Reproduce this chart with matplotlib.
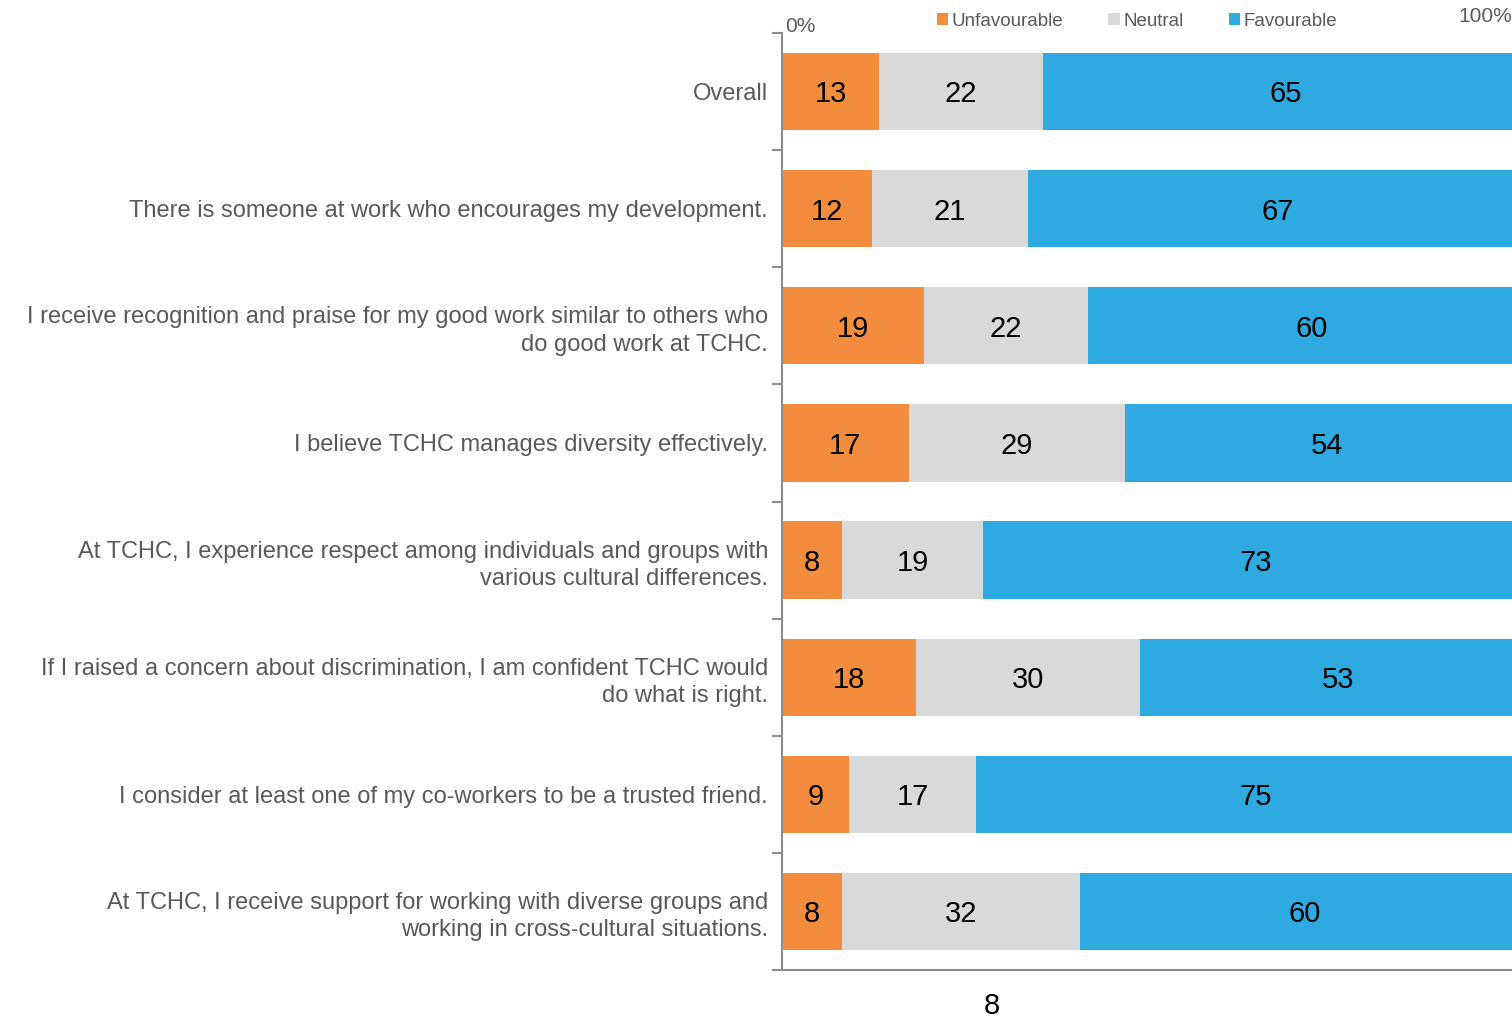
import matplotlib
matplotlib.use("Agg")
import matplotlib.pyplot as plt
from matplotlib.ticker import FixedLocator
import numpy as np

categories = [
    "Overall",
    "There is someone at work who encourages my development.",
    "I receive recognition and praise for my good work similar to others who\ndo good work at TCHC.",
    "I believe TCHC manages diversity effectively.",
    "At TCHC, I experience respect among individuals and groups with\nvarious cultural differences.",
    "If I raised a concern about discrimination, I am confident TCHC would\ndo what is right.",
    "I consider at least one of my co-workers to be a trusted friend.",
    "At TCHC, I receive support for working with diverse groups and\nworking in cross-cultural situations.",
]
unfavourable = [13, 12, 19, 17, 8, 18, 9, 8]
neutral = [22, 21, 22, 29, 19, 30, 17, 32]
favourable = [65, 67, 60, 54, 73, 53, 75, 60]
series_names = ["Unfavourable", "Neutral", "Favourable"]
colors = ["#F38D3D", "#D9D9D9", "#2FAAE1"]

plt.rcParams['font.family'] = ['Liberation Sans', 'DejaVu Sans']

W, H = 1512, 1018
fig = plt.figure(figsize=(W / 100, H / 100), dpi=100)
x0, x100 = 782, 1528
ytop, ybot = 33, 970
ax = fig.add_axes([x0 / W, 1 - ybot / H, (x100 - x0) / W, (ybot - ytop) / H])

n = len(categories)
y = np.arange(n)
left = np.zeros(n)
for vals, name, c in zip([unfavourable, neutral, favourable], series_names, colors):
    vals = np.array(vals, dtype=float)
    ax.barh(y, vals, left=left, height=0.66, color=c, label=name, edgecolor="none")
    for yi, (l, v) in enumerate(zip(left, vals)):
        ax.text(l + v / 2, yi + 0.025, f"{int(v)}", ha="center", va="center",
                fontsize=21, color="black")
    left += vals

ax.set_xlim(0, 100)
ax.set_ylim(n - 0.5, -0.5)
ax.set_yticks(y)
ax.set_yticklabels(categories, fontsize=17, color="#595959", linespacing=1.32)
ax.tick_params(axis="y", which="major", length=0, pad=10)
ax.yaxis.set_minor_locator(FixedLocator(np.arange(-0.5, n, 1.0)))
ax.tick_params(axis="y", which="minor", length=7, width=1.5, color="#8C8C8C")
ax.set_xticks([])
for s in ["top", "right"]:
    ax.spines[s].set_visible(False)
for s in ["left", "bottom"]:
    ax.spines[s].set_color("#8C8C8C")
    ax.spines[s].set_linewidth(1.5)

# Top annotations
fig.text(785 / W, 1 - 27 / H, "0%", fontsize=15, color="#595959", ha="left", va="center")
fig.text(1512 / W, 1 - 17 / H, "100%", fontsize=15, color="#595959", ha="right", va="center")

leg = fig.legend(loc="center", bbox_to_anchor=(1137 / W, 1 - 21 / H), ncol=3, frameon=False,
                 fontsize=13.5, handlelength=0.6, handleheight=0.6, handletextpad=0.2,
                 columnspacing=2.4, labelcolor="#595959")

fig.text(992 / W, 1 - 1006 / H, "8", fontsize=21, color="black", ha="center", va="center")

fig.savefig("out.png", dpi=100)
